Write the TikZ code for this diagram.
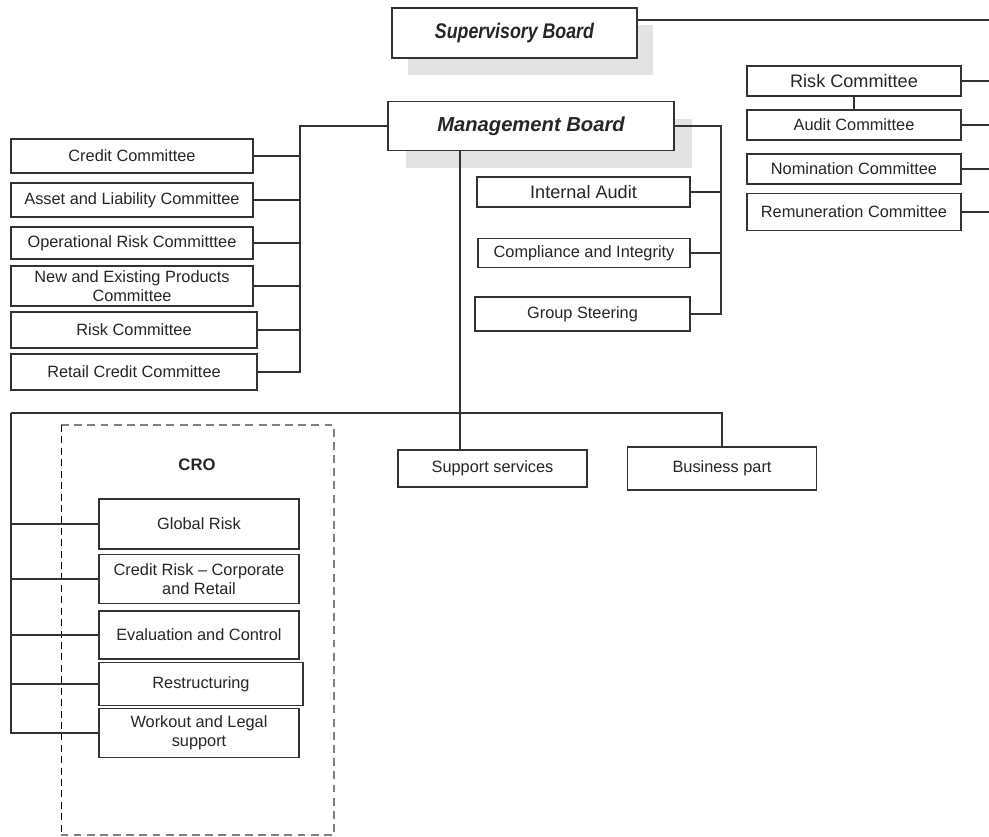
\documentclass[tikz,border=0pt]{standalone}
\usepackage{fontspec}
\setmainfont{Liberation Sans}
\usetikzlibrary{shadows}

\tikzset{
  box/.style 2 args={draw=black!80, fill=white, text=black!85, inner sep=1pt, align=center,
    minimum width=#1*0.02cm, minimum height=#2*0.02cm,
    font=\fontsize{9.3}{10.6}\selectfont},
  bigtext/.style={font=\fontsize{10.3}{12}\selectfont},
  board/.style={font=\fontsize{11.5}{13}\selectfont\bfseries\itshape,
    drop shadow={shadow xshift=#1, shadow yshift=-0.35cm, fill=black!11, opacity=1}},
}

\begin{document}
\begin{tikzpicture}[x=0.02cm, y=-0.02cm, line width=0.8pt, draw=black!80]
\useasboundingbox (0,0) rectangle (989,837);

\node[box={245}{50}, board=0.32cm] (sb) at (514.5,33) {\scalebox{0.88}[1.05]{Supervisory Board}};
\node[box={286}{49}, board=0.36cm] (mb) at (531,126) {Management Board};

\node[box={214}{30}, bigtext] (rc) at (854,81) {Risk Committee};
\node[box={214}{30}] (ac) at (854,125) {Audit Committee};
\node[box={214}{30}] (nc) at (854,169) {Nomination Committee};
\node[box={214}{37}] (rmc) at (854,212) {Remuneration Committee};

\node[box={213}{30}, bigtext] (ia) at (583.5,192) {Internal Audit};
\node[box={212}{29}] (ci) at (584,253) {Compliance and Integrity};
\node[box={215}{34}] (gs) at (582.5,314) {Group Steering};

\node[box={242}{34}] (cc) at (132,156) {Credit Committee};
\node[box={242}{34}] (alc) at (132,200) {Asset and Liability Committee};
\node[box={242}{32}] (orc) at (132,243) {Operational Risk Committtee};
\node[box={242}{40}] (nep) at (132,286) {New and Existing Products\\Committee};
\node[box={246}{36}] (rkc) at (134,330) {Risk Committee};
\node[box={246}{36}] (rcc) at (134,372) {Retail Credit Committee};

\node[box={189}{37}] (ss) at (492.5,468.5) {Support services};
\node[box={189}{43}] (bp) at (722,468.5) {Business part};

\draw[gray, line width=1pt, dash pattern=on 4.5pt off 3pt] (61,425) -- (334,425) -- (334,835) -- (61,835);
\draw[black, line width=0.5pt, dash pattern=on 4pt off 2.5pt] (61,425) -- (61,835);
\node[font=\fontsize{9.5}{11}\selectfont\bfseries, text=black!85] (cro) at (197,465) {CRO};

\node[box={200}{50}] (gr) at (199,524) {Global Risk};
\node[box={200}{49}] (cr) at (199,579) {Credit Risk -- Corporate\\and Retail};
\node[box={200}{48}] (ec) at (199,635) {Evaluation and Control};
\node[box={204}{43}] (rs) at (201,684) {Restructuring};
\node[box={200}{49}] (wl) at (199,733) {Workout and Legal\\support};

\coordinate (edge) at (989,0);
\coordinate (lb) at (300,0);
\coordinate (rb) at (721,0);
\coordinate (sup) at (460,0);
\coordinate (hb) at (11,413);

\draw ([yshift=0.26cm]sb.east) -- ([yshift=0.26cm]sb.east -| edge);
\foreach \n in {rc,ac,nc,rmc}
  \draw (\n.east) -- (\n.east -| edge);
\draw (rc.south) -- (ac.north);

\draw (mb.east) -- (mb.east -| rb) -- (rb |- gs.east) -- (gs.east);
\foreach \n in {ia,ci}
  \draw (\n.east) -- (\n.east -| rb);

\draw (mb.west) -- (mb.west -| lb) -- (lb |- rcc.east) -- (rcc.east);
\foreach \n in {cc,alc,orc,nep,rkc}
  \draw (\n.east) -- (\n.east -| lb);

\draw (mb.south -| sup) -- (ss.north -| sup);
\draw (hb) -- (hb -| bp.north) -- (bp.north);
\draw (hb) -- (hb |- wl.west) -- (wl.west);
\foreach \n in {gr,cr,ec,rs}
  \draw (\n.west) -- (\n.west -| hb);
\end{tikzpicture}
\end{document}
